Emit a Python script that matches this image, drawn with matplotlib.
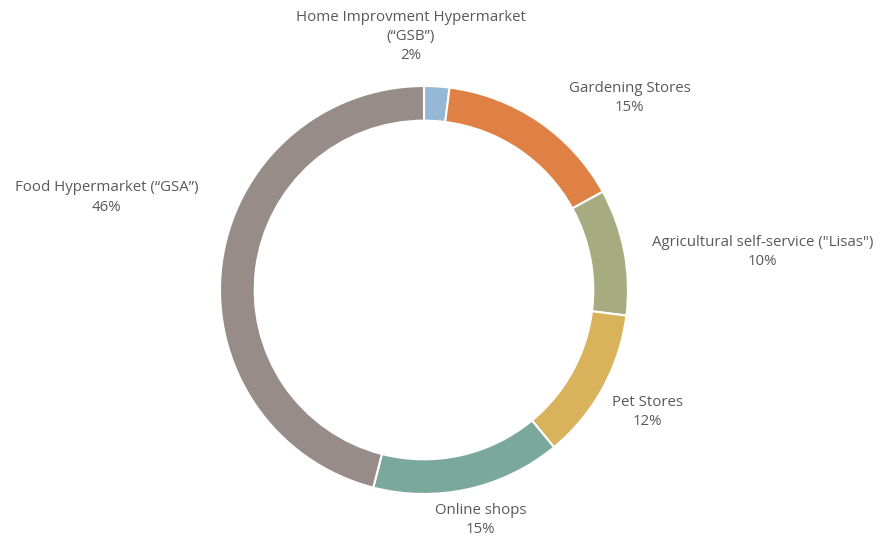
import matplotlib.pyplot as plt
import numpy as np

# data
labels = ['Home Improvment Hypermarket\n(\u201cGSB\u201d)', 'Gardening Stores',
          'Agricultural self-service ("Lisas")', 'Pet Stores', 'Online shops',
          'Food Hypermarket (\u201cGSA\u201d)']
values = [2, 15, 10, 12, 15, 46]
colors = ['#94B8D6', '#DF8045', '#A6AC80', '#D9B35C', '#7AA89B', '#978C88']

# label offsets (pixels) from outer edge at wedge middle
offsets = [(-26, 50), (91, 23), (138, 0), (45, -24), (12, -31), (-115, 67)]

plt.rcParams['font.family'] = ['Open Sans', 'DejaVu Sans']

fig = plt.figure(figsize=(8.82, 5.41), dpi=100)
ax = fig.add_axes([0, 0, 1, 1])
R = 204
ax.pie(values, colors=colors, radius=R, startangle=90, counterclock=False,
       wedgeprops=dict(width=R * 0.17, edgecolor='white', linewidth=1.5))
ax.set_xlim(-424, 458)
ax.set_ylim(-251, 290)
ax.set_aspect('equal')
ax.axis('off')

total = float(sum(values))
cum = 0
for lab, v, off in zip(labels, values, offsets):
    mid = (cum + v / 2) / total * 2 * np.pi
    cum += v
    x, y = R * np.sin(mid), R * np.cos(mid)
    ax.annotate(lab + '\n%d%%' % v, xy=(x, y), xytext=off, textcoords='offset pixels',
                ha='center', va='center', fontsize=10.8, color='#595959',
                linespacing=1.4)

plt.savefig('out.png', dpi=100)
